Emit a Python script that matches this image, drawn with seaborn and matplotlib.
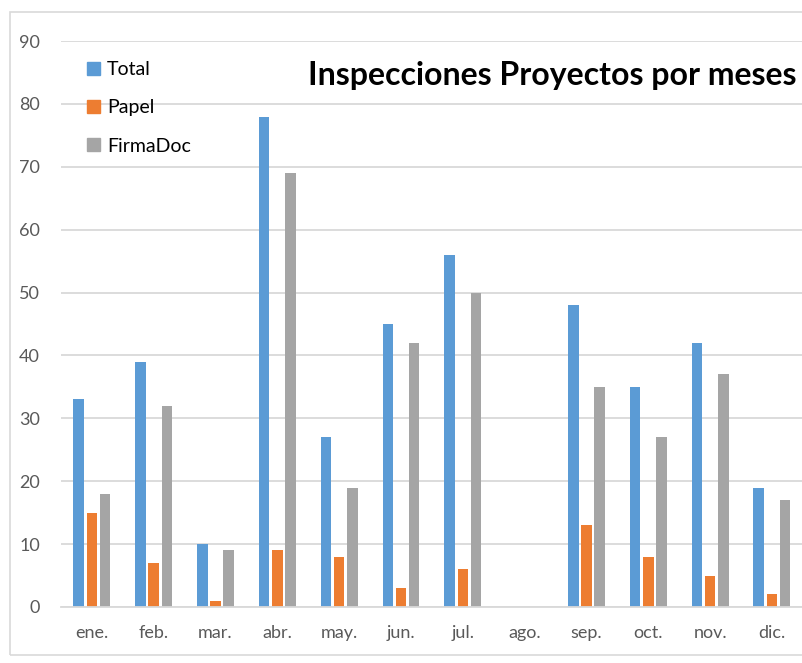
import seaborn as sns
import matplotlib.pyplot as plt
import matplotlib.patches as mpatches
import pandas as pd

# Datos
meses = ['ene.', 'feb.', 'mar.', 'abr.', 'may.', 'jun.',
         'jul.', 'ago.', 'sep.', 'oct.', 'nov.', 'dic.']
total = [33, 39, 10, 78, 27, 45, 56, 0, 48, 35, 42, 19]
papel = [15, 7, 1, 9, 8, 3, 6, 0, 13, 8, 5, 2]
firmadoc = [18, 32, 9, 69, 19, 42, 50, 0, 35, 27, 37, 17]
series = ['Total', 'Papel', 'FirmaDoc']
colores = ['#5B9BD5', '#ED7D31', '#A5A5A5']

df = pd.DataFrame({'mes': meses * 3,
                   'valor': total + papel + firmadoc,
                   'serie': [s for s in series for _ in meses]})

sns.set_style('white')
plt.rcParams['font.family'] = ['Lato', 'DejaVu Sans']

fig = plt.figure(figsize=(8.02, 6.63), dpi=100)
ax = fig.add_axes([0.076, 0.0845, 0.925, 0.8535])

# borde del area del grafico
fig.patches.append(mpatches.Rectangle((10 / 802, 0.012), 1.0, 1 - 12 / 663 - 0.012,
                                      transform=fig.transFigure, fill=False,
                                      edgecolor='#D9D9D9', linewidth=1.2))

sns.barplot(data=df, x='mes', y='valor', hue='serie', palette=colores,
            saturation=1, width=0.64, gap=0.2, ax=ax, legend=False,
            edgecolor='none')

ax.set_ylim(0, 90)
ax.set_xlim(-0.5, 11.5)
ax.set_yticks(range(0, 91, 10))
ax.yaxis.grid(True, color='#D9D9D9', linewidth=1.3)
ax.set_axisbelow(True)
for s in ['top', 'right', 'left']:
    ax.spines[s].set_visible(False)
ax.spines['bottom'].set_color('#D9D9D9')
ax.spines['bottom'].set_linewidth(1.3)
ax.tick_params(axis='both', length=0, labelsize=13, colors='#595959')
ax.tick_params(axis='x', pad=13)
ax.tick_params(axis='y', pad=15)
ax.set_xlabel('')
ax.set_ylabel('')

handles = [mpatches.Patch(color=c, label=s) for c, s in zip(colores, series)]
ax.legend(handles=handles, loc='upper left', bbox_to_anchor=(0.012, 0.996),
          frameon=False, fontsize=14, handlelength=0.65, handleheight=0.65,
          handletextpad=0.35, labelspacing=1.1, labelcolor='#000000')

fig.text(0.993, 1 - 75 / 663, 'Inspecciones Proyectos por meses', ha='right',
         va='center', fontsize=23, fontweight='bold', color='#000000')

fig.savefig('out.png', dpi=100)
